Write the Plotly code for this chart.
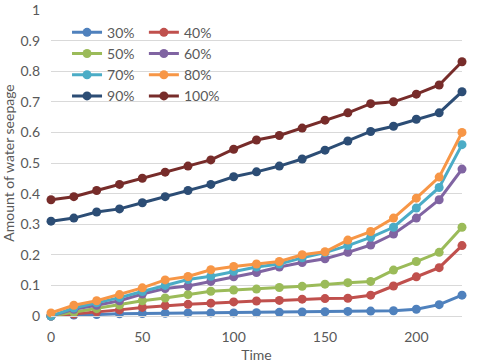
import plotly.graph_objects as go

time = [0, 12.5, 25, 37.5, 50, 62.5, 75, 87.5, 100, 112.5, 125, 137.5, 150,
        162.5, 175, 187.5, 200, 212.5, 225]

s30 = [0, 0.003, 0.005, 0.007, 0.008, 0.009, 0.01, 0.01, 0.01, 0.011, 0.012,
       0.013, 0.014, 0.015, 0.016, 0.017, 0.022, 0.037, 0.068]
s40 = [0, 0.006, 0.014, 0.02, 0.028, 0.034, 0.038, 0.042, 0.046, 0.049, 0.051,
       0.055, 0.057, 0.058, 0.068, 0.098, 0.128, 0.158, 0.23]
s50 = [0, 0.012, 0.024, 0.036, 0.05, 0.059, 0.07, 0.081, 0.085, 0.088, 0.093,
       0.097, 0.104, 0.109, 0.113, 0.15, 0.178, 0.208, 0.29]
s60 = [0, 0.022, 0.035, 0.05, 0.072, 0.09, 0.098, 0.113, 0.128, 0.142, 0.16,
       0.175, 0.187, 0.208, 0.232, 0.268, 0.32, 0.38, 0.48]
s70 = [0, 0.026, 0.043, 0.06, 0.08, 0.1, 0.119, 0.13, 0.146, 0.16, 0.17,
       0.19, 0.207, 0.23, 0.257, 0.29, 0.353, 0.42, 0.56]
s80 = [0.01, 0.035, 0.05, 0.07, 0.092, 0.118, 0.129, 0.151, 0.162, 0.17, 0.178,
       0.2, 0.21, 0.248, 0.276, 0.32, 0.385, 0.454, 0.6]
s90 = [0.31, 0.32, 0.34, 0.35, 0.37, 0.39, 0.41, 0.43, 0.455, 0.471, 0.49,
       0.513, 0.542, 0.572, 0.603, 0.62, 0.643, 0.664, 0.733]
s100 = [0.38, 0.39, 0.41, 0.43, 0.45, 0.47, 0.49, 0.51, 0.545, 0.575, 0.59,
        0.614, 0.64, 0.664, 0.694, 0.70, 0.725, 0.755, 0.831]

names = ["30%", "40%", "50%", "60%", "70%", "80%", "90%", "100%"]
series = [s30, s40, s50, s60, s70, s80, s90, s100]
colors = ["#4F81BD", "#C0504D", "#9BBB59", "#8064A2", "#4BACC6", "#F79646",
          "#2C4D75", "#772C2A"]

fig = go.Figure()
for i, (name, ys, col) in enumerate(zip(names, series, colors)):
    fig.add_trace(go.Scatter(
        x=time, y=ys, name=name, mode="lines+markers",
        line=dict(color=col, width=3),
        marker=dict(color=col, size=9),
        cliponaxis=False,
        legend="legend" if i % 2 == 0 else "legend2",
        legendgroup=name,
    ))

legend_style = dict(
    bgcolor="rgba(0,0,0,0)", font=dict(size=14, color="#595959"),
    tracegroupgap=0, itemwidth=30, yanchor="top", y=0.978,
)

fig.update_layout(
    width=480, height=364,
    margin=dict(l=51, r=18, t=10, b=48),
    plot_bgcolor="white", paper_bgcolor="white",
    font=dict(family="Lato, Open Sans, sans-serif", size=14, color="#595959"),
    legend=dict(x=0.039, **legend_style),
    legend2=dict(x=0.226, **legend_style),
    xaxis=dict(
        title=dict(text="Time", font=dict(size=14), standoff=6),
        range=[0, 225], tickvals=[0, 50, 100, 150, 200],
        showgrid=False, zeroline=False, showline=True, linecolor="#D9D9D9",
        ticks="", ticklabelstandoff=8, automargin=False,
    ),
    yaxis=dict(
        title=dict(text="Amount of water seepage", font=dict(size=14), standoff=2),
        range=[0, 1], dtick=0.1, showgrid=True, gridcolor="#D9D9D9",
        zeroline=False, ticks="", ticklabelstandoff=10, automargin=False,
    ),
)

# drop the page's default body margin so the 480x364 figure fits the window
fig.write_html("out.html", config={"displayModeBar": False},
               post_script="document.body.style.margin='0';")
